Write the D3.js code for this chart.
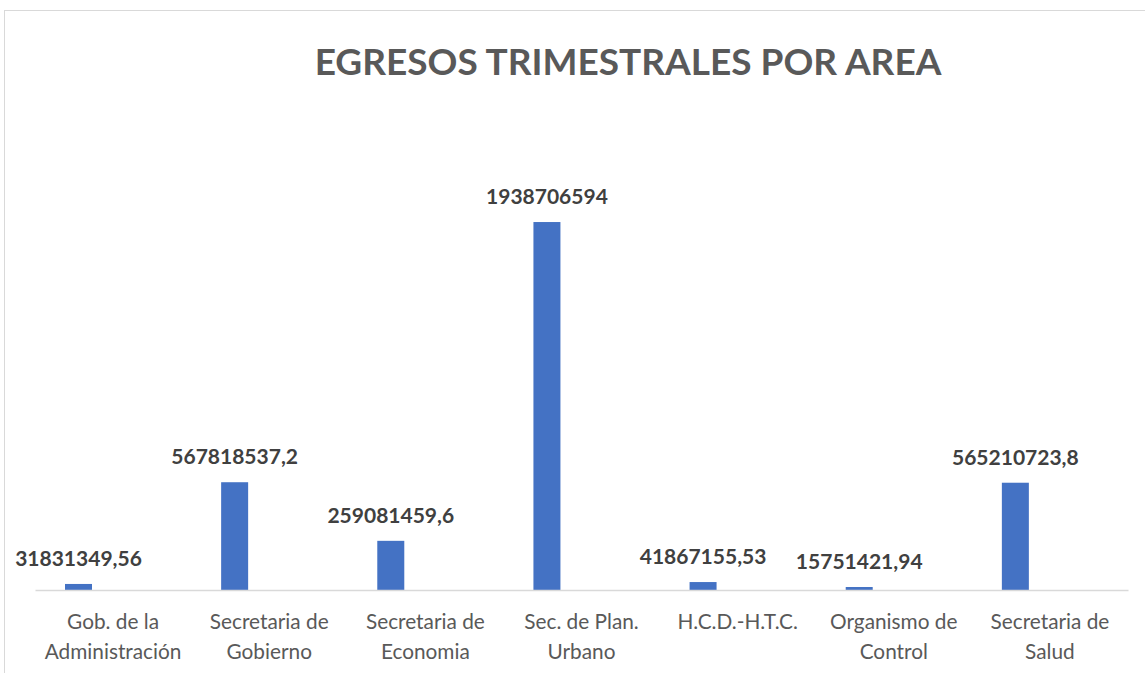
<!DOCTYPE html>
<html>
<head>
<meta charset="utf-8">
<script src="https://cdn.jsdelivr.net/npm/d3@7"></script>
<style>
  body { margin: 0; background: #fff; }
  svg { display: block; }
</style>
</head>
<body>
<svg id="chart" width="1145" height="677"></svg>
<script>
// Egresos trimestrales por area -- bar chart

var title = "EGRESOS TRIMESTRALES POR AREA";

var areas = [
  "Gob. de la Administración",
  "Secretaria de Gobierno",
  "Secretaria de Economia",
  "Sec. de Plan. Urbano",
  "H.C.D.-H.T.C.",
  "Organismo de Control",
  "Secretaria de Salud"
];

var egresos = [
  31831349.56,
  567818537.2,
  259081459.6,
  1938706594,
  41867155.53,
  15751421.94,
  565210723.8
];

// labels as printed on the chart (comma decimals)
var labels = [
  "31831349,56",
  "567818537,2",
  "259081459,6",
  "1938706594",
  "41867155,53",
  "15751421,94",
  "565210723,8"
];

var yMax = 2500000000;

///////////////////////////////////////////////////////////////////////////////
// Layout

var svg = d3.select("#chart");
var font = "Lato, 'Open Sans', sans-serif";
var left = 35, right = 1128, baseY = 590, topY = 115.5;
var barOffset = 30, barWidth = 27; // bar sits left of the category centre

// chart frame (only top and left edges show in the picture)
svg.append("line")
  .attr("x1", 4).attr("x2", 1145).attr("y1", 10.5).attr("y2", 10.5)
  .attr("stroke", "#d9d9d9").attr("stroke-width", 1);
svg.append("line")
  .attr("x1", 4.5).attr("x2", 4.5).attr("y1", 10).attr("y2", 673)
  .attr("stroke", "#d9d9d9").attr("stroke-width", 1);

svg.append("text")
  .attr("x", 628).attr("y", 75)
  .attr("text-anchor", "middle")
  .style("font-family", font)
  .style("font-weight", "bold")
  .style("font-size", "37px")
  .attr("fill", "#595959")
  .text(title);

var x = d3.scaleBand()
  .domain(areas)
  .range([left, right])
  .padding(0);

var y = d3.scaleLinear()
  .domain([0, yMax])
  .range([baseY, topY]);

///////////////////////////////////////////////////////////////////////////////
// Bars

svg.append("g").selectAll("rect")
  .data(areas)
  .join("rect")
  .attr("x", function (d) { return x(d) + barOffset; })
  .attr("width", barWidth)
  .attr("y", function (d, i) { return y(egresos[i]); })
  .attr("height", function (d, i) { return baseY - y(egresos[i]); })
  .attr("fill", "#4472c4");

// axis line
var xAxis = svg.append("g")
  .attr("transform", "translate(0," + baseY + ")")
  .call(d3.axisBottom(x).tickSize(0).tickFormat(""));
xAxis.select(".domain").attr("stroke", "#d9d9d9").attr("stroke-width", 1.5);

// value labels
svg.append("g").selectAll("text")
  .data(areas)
  .join("text")
  .attr("x", function (d) { return x(d) + barOffset + barWidth / 2; })
  .attr("y", function (d, i) { return y(egresos[i]) - 18; })
  .attr("text-anchor", "middle")
  .style("font-family", font)
  .style("font-weight", "bold")
  .style("font-size", "21px")
  .attr("fill", "#404040")
  .text(function (d, i) { return labels[i]; });

// category labels, wrapped like the spreadsheet does
var maxWidth = x.step() - 8;
var cats = svg.append("g").selectAll("text")
  .data(areas)
  .join("text")
  .attr("text-anchor", "middle")
  .style("font-family", font)
  .style("font-size", "20.8px")
  .attr("fill", "#595959");

cats.each(function (d) {
  var text = d3.select(this);
  var cx = x(d) + x.bandwidth() / 2;
  var words = d.split(" ");
  var lines = [], line = [];
  var probe = text.append("tspan");
  words.forEach(function (w) {
    var tryLine = line.concat([w]).join(" ");
    probe.text(tryLine);
    if (line.length && probe.node().getComputedTextLength() > maxWidth) {
      lines.push(line.join(" "));
      line = [w];
    } else {
      line.push(w);
    }
  });
  lines.push(line.join(" "));
  probe.remove();
  lines.forEach(function (l, i) {
    text.append("tspan")
      .attr("x", cx)
      .attr("y", 629 + i * 29.5)
      .text(l);
  });
});
</script>
</body>
</html>
